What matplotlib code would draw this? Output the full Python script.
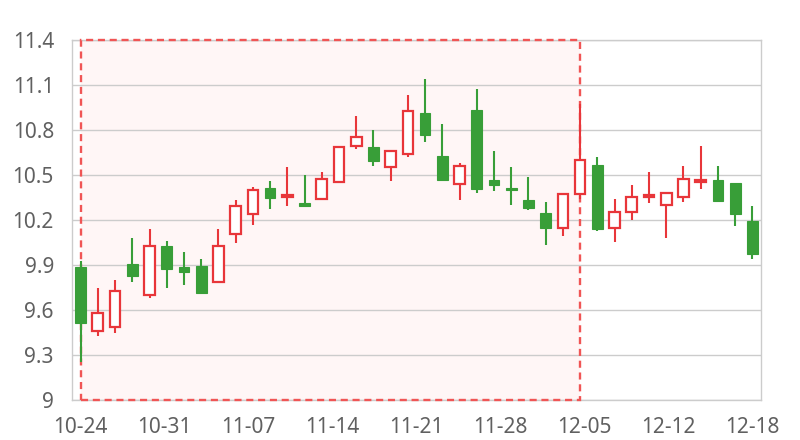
import numpy as np
import matplotlib.pyplot as plt

# 日K数据 (开, 收, 高, 低)
opens = [9.885, 9.46, 9.49, 9.905, 9.70, 10.027, 9.887, 9.896, 9.79, 10.11,
         10.24, 10.415, 10.35, 10.315, 10.34, 10.45, 10.69, 10.685, 10.55, 10.64,
         10.915, 10.625, 10.44, 10.935, 10.465, 10.415, 10.335, 10.245, 10.15, 10.37,
         10.567, 10.15, 10.25, 10.35, 10.30, 10.35, 10.45, 10.465, 10.445, 10.195]
closes = [9.515, 9.58, 9.73, 9.827, 10.03, 9.875, 9.855, 9.716, 10.03, 10.29,
          10.40, 10.349, 10.365, 10.29, 10.47, 10.685, 10.755, 10.596, 10.66, 10.925,
          10.767, 10.467, 10.56, 10.405, 10.43, 10.40, 10.28, 10.15, 10.37, 10.60,
          10.142, 10.255, 10.355, 10.365, 10.38, 10.47, 10.465, 10.327, 10.24, 9.975]
highs = [9.93, 9.75, 9.80, 10.08, 10.14, 10.06, 9.99, 9.94, 10.14, 10.33,
         10.42, 10.46, 10.55, 10.50, 10.52, 10.695, 10.89, 10.80, 10.662, 11.03,
         11.14, 10.84, 10.58, 11.07, 10.658, 10.551, 10.489, 10.32, 10.38, 10.97,
         10.62, 10.34, 10.43, 10.52, 10.382, 10.56, 10.69, 10.56, 10.445, 10.29]
lows = [9.255, 9.43, 9.445, 9.79, 9.68, 9.75, 9.77, 9.71, 9.79, 10.05,
        10.17, 10.27, 10.29, 10.285, 10.335, 10.449, 10.67, 10.56, 10.46, 10.62,
        10.72, 10.46, 10.335, 10.38, 10.39, 10.30, 10.265, 10.035, 10.095, 10.34,
        10.13, 10.055, 10.20, 10.31, 10.08, 10.32, 10.405, 10.327, 10.16, 9.94]

xlabels = ['10-24', '10-31', '11-07', '11-14', '11-21', '11-28', '12-05', '12-12', '12-18']
yticks = [9, 9.3, 9.6, 9.9, 10.2, 10.5, 10.8, 11.1, 11.4]

# 标记区域: 第0根到第29根K线
area_start, area_end = 0, 29

up_color = '#e8363a'
down_color = '#389e38'
text_color = '#606060'
line_color = '#cccccc'

opens = np.array(opens)
closes = np.array(closes)
highs = np.array(highs)
lows = np.array(lows)
x = np.arange(len(opens))
up = closes >= opens

fig = plt.figure(figsize=(8, 4.4), dpi=100)
ax = fig.add_axes([0.09, 0.0909, 0.86125, 0.8182])

# 区域底色在网格下面, 虚线边框在网格上面
ax.axvspan(area_start, area_end, facecolor='#fff6f6', edgecolor='none', zorder=0.2)
ax.axvspan(area_start, area_end, facecolor='none', edgecolor='#f05555',
           linestyle=(0, (3, 2)), linewidth=1.7, zorder=2.6, clip_on=False)

ax.vlines(x[up], lows[up], highs[up], color=up_color, linewidth=1.5, zorder=3)
ax.vlines(x[~up], lows[~up], highs[~up], color=down_color, linewidth=1.5, zorder=3)

w = 0.62
ax.bar(x[up], closes[up] - opens[up], bottom=opens[up], width=w,
       facecolor='white', edgecolor=up_color, linewidth=1.6, zorder=4)
ax.bar(x[~up], closes[~up] - opens[~up], bottom=opens[~up], width=w,
       facecolor=down_color, edgecolor=down_color, linewidth=0.8, zorder=4)

ax.set_xlim(-0.5, len(x) - 0.5)
ax.set_ylim(9, 11.4)
ax.set_yticks(yticks)
ax.set_yticklabels(['%g' % v for v in yticks])
ax.set_xticks(np.linspace(0, len(x) - 1, len(xlabels)))
ax.set_xticklabels(xlabels)

ax.yaxis.grid(True, color=line_color, linewidth=1, zorder=0.5)
ax.set_axisbelow(True)
for s in ax.spines.values():
    s.set_color(line_color)
    s.set_linewidth(1)
ax.tick_params(length=0, labelsize=15, labelcolor=text_color)
ax.tick_params(axis='y', pad=13)
ax.tick_params(axis='x', pad=12)
for lab in ax.get_xticklabels() + ax.get_yticklabels():
    lab.set_family(['Noto Sans', 'DejaVu Sans'])

fig.savefig('out.png', dpi=100)
